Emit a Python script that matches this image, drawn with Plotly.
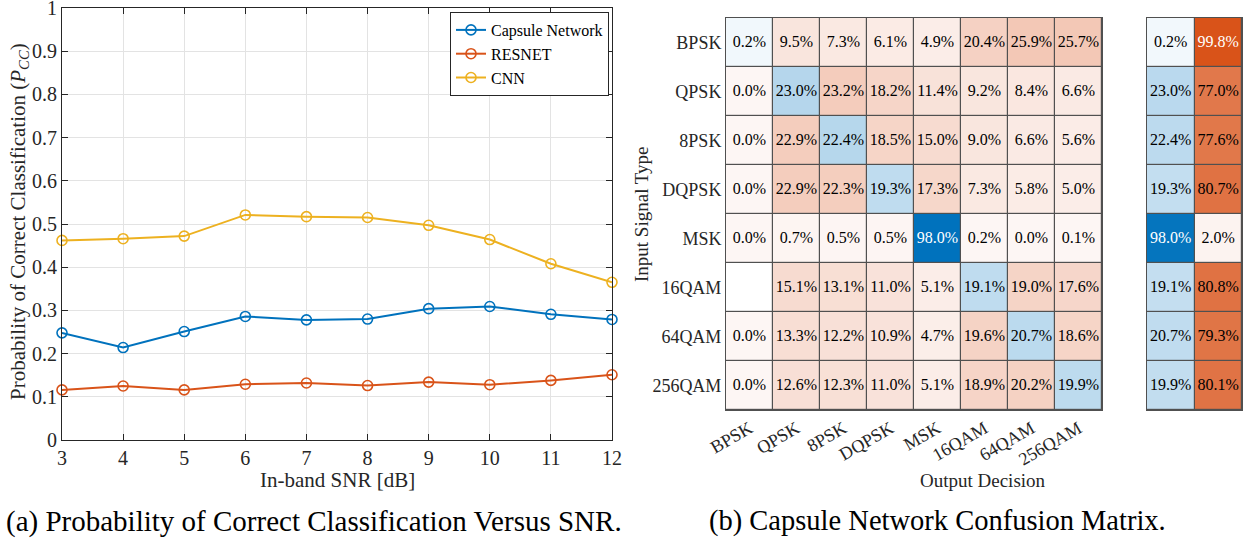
import plotly.graph_objects as go

W, H = 1245, 541

# ---------------- data: left plot ----------------
snr_db = [3, 4, 5, 6, 7, 8, 9, 10, 11, 12]
capsule_pcc = [0.248, 0.214, 0.251, 0.286, 0.278, 0.280, 0.304, 0.309, 0.291, 0.279]
resnet_pcc = [0.116, 0.125, 0.116, 0.129, 0.132, 0.126, 0.134, 0.128, 0.138, 0.151]
cnn_pcc = [0.462, 0.466, 0.472, 0.521, 0.517, 0.515, 0.497, 0.464, 0.408, 0.365]
y_ticks = [0, 0.1, 0.2, 0.3, 0.4, 0.5, 0.6, 0.7, 0.8, 0.9, 1]
y_ticklabels = ["0", "0.1", "0.2", "0.3", "0.4", "0.5", "0.6", "0.7", "0.8", "0.9", "1"]

# ---------------- data: confusion matrix ----------------
classes = ["BPSK", "QPSK", "8PSK", "DQPSK", "MSK", "16QAM", "64QAM", "256QAM"]
row_bpsk = [0.2, 9.5, 7.3, 6.1, 4.9, 20.4, 25.9, 25.7]
row_qpsk = [0.0, 23.0, 23.2, 18.2, 11.4, 9.2, 8.4, 6.6]
row_8psk = [0.0, 22.9, 22.4, 18.5, 15.0, 9.0, 6.6, 5.6]
row_dqpsk = [0.0, 22.9, 22.3, 19.3, 17.3, 7.3, 5.8, 5.0]
row_msk = [0.0, 0.7, 0.5, 0.5, 98.0, 0.2, 0.0, 0.1]
row_16qam = [None, 15.1, 13.1, 11.0, 5.1, 19.1, 19.0, 17.6]
row_64qam = [0.0, 13.3, 12.2, 10.9, 4.7, 19.6, 20.7, 18.6]
row_256qam = [0.0, 12.6, 12.3, 11.0, 5.1, 18.9, 20.2, 19.9]
conf = [row_bpsk, row_qpsk, row_8psk, row_dqpsk, row_msk, row_16qam, row_64qam, row_256qam]

correct_pct = [0.2, 23.0, 22.4, 19.3, 98.0, 19.1, 20.7, 19.9]
error_pct = [99.8, 77.0, 77.6, 80.7, 2.0, 80.8, 79.3, 80.1]
summary_cols = ["correct", "error"]

BLUE = (0, 114, 189)
ORANGE = (217, 83, 25)
C_BLUE = "#0072BD"
C_ORANGE = "#D95319"
C_YELLOW = "#EDB120"
FONT = "Liberation Serif"
AX = "#262626"
GRIDLINE = "#505050"

MAIN_MAX = 91.0
SIDE_MAX = 100.0
BASE = 0.05
GAP = 1.2


def mix(c, f):
    f = max(0.0, min(1.0, f))
    return "rgb(%d,%d,%d)" % tuple(round(255 - f * (255 - v)) for v in c)


def frac(v, vmax):
    return min(1.0, BASE + (1 - BASE) * v / vmax)


def scale(c, vmax):
    # z = -1 -> blank white, z = 0 -> BASE tint, z = vmax -> full colour
    p0 = 1.0 / (vmax + 1.0)
    return [[0, "white"], [p0 * 0.5, "white"], [p0, mix(c, BASE)], [1, mix(c, 1.0)]]


def xpx(px):
    return px / W


def ypx(py):
    return 1 - py / H


fig = go.Figure()

# ---------------- left line chart ----------------
for name, vals, col in [("Capsule Network", capsule_pcc, C_BLUE),
                        ("RESNET", resnet_pcc, C_ORANGE),
                        ("CNN", cnn_pcc, C_YELLOW)]:
    fig.add_trace(go.Scatter(
        x=snr_db, y=vals, name=name, mode="lines+markers",
        line=dict(color=col, width=2),
        marker=dict(symbol="circle-open", size=10, color=col, line=dict(width=1.6)),
        cliponaxis=False, xaxis="x", yaxis="y", showlegend=True))

# ---------------- confusion matrix (main) ----------------
n = len(classes)
z_diag = [[(conf[i][j] if i == j else None) for j in range(n)] for i in range(n)]
z_off = [[(None if i == j else (conf[i][j] if conf[i][j] is not None else -1)) for j in range(n)]
         for i in range(n)]

fig.add_trace(go.Heatmap(
    x=classes, y=classes, z=z_off, colorscale=scale(ORANGE, MAIN_MAX),
    zmin=-1, zmax=MAIN_MAX, showscale=False, xgap=GAP, ygap=GAP,
    hoverinfo="skip", xaxis="x2", yaxis="y2"))
fig.add_trace(go.Heatmap(
    x=classes, y=classes, z=z_diag, colorscale=scale(BLUE, MAIN_MAX),
    zmin=-1, zmax=MAIN_MAX, showscale=False, xgap=GAP, ygap=GAP,
    hoverinfo="skip", xaxis="x2", yaxis="y2"))

tx, ty, tt, tc = [], [], [], []
for i in range(n):
    for j in range(n):
        v = conf[i][j]
        if v is None:
            continue
        tx.append(classes[j]); ty.append(classes[i]); tt.append("%.1f%%" % v)
        tc.append("white" if frac(v, MAIN_MAX) > 0.9 else "black")
fig.add_trace(go.Scatter(
    x=tx, y=ty, text=tt, mode="text", textfont=dict(family=FONT, size=16, color=tc),
    hoverinfo="skip", showlegend=False, xaxis="x2", yaxis="y2"))

# ---------------- summary columns ----------------
z_sc = [[c, None] for c in correct_pct]
z_se = [[None, e] for e in error_pct]
fig.add_trace(go.Heatmap(
    x=summary_cols, y=classes, z=z_sc, colorscale=scale(BLUE, SIDE_MAX),
    zmin=-1, zmax=SIDE_MAX, showscale=False, xgap=GAP, ygap=GAP,
    hoverinfo="skip", xaxis="x3", yaxis="y3"))
fig.add_trace(go.Heatmap(
    x=summary_cols, y=classes, z=z_se, colorscale=scale(ORANGE, SIDE_MAX),
    zmin=-1, zmax=SIDE_MAX, showscale=False, xgap=GAP, ygap=GAP,
    hoverinfo="skip", xaxis="x3", yaxis="y3"))
sx, sy, st, sc = [], [], [], []
for i in range(n):
    for col, v in [(summary_cols[0], correct_pct[i]), (summary_cols[1], error_pct[i])]:
        sx.append(col); sy.append(classes[i]); st.append("%.1f%%" % v)
        sc.append("white" if frac(v, SIDE_MAX) > 0.9 else "black")
fig.add_trace(go.Scatter(
    x=sx, y=sy, text=st, mode="text", textfont=dict(family=FONT, size=16, color=sc),
    hoverinfo="skip", showlegend=False, xaxis="x3", yaxis="y3"))

tickfont = dict(family=FONT, size=20, color=AX)
catfont = dict(family=FONT, size=18, color=AX)
fig.update_layout(
    width=W, height=H, margin=dict(l=0, r=0, t=0, b=0, pad=0, autoexpand=False),
    paper_bgcolor="white", plot_bgcolor="white",
    font=dict(family=FONT, size=16, color=AX),
    xaxis=dict(domain=[xpx(62), xpx(612)], range=[3, 12], dtick=1, tick0=3,
               showgrid=True, gridcolor="#E3E3E3", gridwidth=1,
               showline=True, linecolor=AX, linewidth=1, mirror="ticks",
               ticks="inside", ticklen=6, tickcolor=AX, tickfont=tickfont, zeroline=False,
               ticklabeloverflow="allow", automargin=False),
    yaxis=dict(domain=[ypx(440), ypx(8)], range=[0, 1], tickmode="array",
               tickvals=y_ticks, ticktext=y_ticklabels,
               showgrid=True, gridcolor="#E3E3E3", gridwidth=1,
               showline=True, linecolor=AX, linewidth=1, mirror="ticks",
               ticks="inside", ticklen=6, tickcolor=AX, tickfont=tickfont, zeroline=False,
               ticklabeloverflow="allow", automargin=False),
    xaxis2=dict(domain=[xpx(726), xpx(1102)], anchor="y2", type="category",
                tickangle=-30, tickfont=catfont, automargin=False,
                showline=True, mirror=True, linecolor=GRIDLINE, linewidth=1,
                showgrid=False, zeroline=False, ticks=""),
    yaxis2=dict(domain=[ypx(410), ypx(18)], anchor="x2", type="category",
                autorange="reversed", tickfont=catfont, automargin=False,
                showline=True, mirror=True, linecolor=GRIDLINE, linewidth=1,
                showgrid=False, zeroline=False, ticks=""),
    xaxis3=dict(domain=[xpx(1147), xpx(1242)], anchor="y3", type="category",
                showticklabels=False, showline=True, mirror=True, linecolor=GRIDLINE,
                linewidth=1, showgrid=False, zeroline=False, ticks="", automargin=False),
    yaxis3=dict(domain=[ypx(410), ypx(18)], anchor="x3", type="category",
                autorange="reversed", showticklabels=False, showline=True, mirror=True,
                linecolor=GRIDLINE, linewidth=1, showgrid=False, zeroline=False, ticks="",
                automargin=False),
    legend=dict(x=xpx(609), y=ypx(12), xanchor="right", yanchor="top",
                bgcolor="white", bordercolor=AX, borderwidth=1,
                font=dict(family=FONT, size=16, color="black"),
                tracegroupgap=0, itemwidth=30),
    showlegend=True,
)

# dark backing behind the matrices so the cell gaps read as grid lines
shapes = []
for xr, yr in [("x2 domain", "y2 domain"), ("x3 domain", "y3 domain")]:
    shapes.append(dict(type="rect", xref=xr, yref=yr, x0=0, x1=1, y0=0, y1=1,
                       fillcolor=GRIDLINE, line=dict(width=0), layer="below"))
fig.update_layout(shapes=shapes)

annotations = [
    dict(text="In-band SNR [dB]", x=xpx(337), y=ypx(480), font=dict(family=FONT, size=21, color=AX)),
    dict(text="Probability of Correct Classification (<i>P</i><sub><i>CC</i></sub>)",
         x=xpx(19), y=ypx(222), textangle=-90, font=dict(family=FONT, size=21, color=AX)),
    dict(text="Output Decision", x=xpx(983), y=ypx(480), font=dict(family=FONT, size=19, color=AX)),
    dict(text="Input Signal Type", x=xpx(641), y=ypx(214), textangle=-90,
         font=dict(family=FONT, size=19, color=AX)),
    dict(text="(a) Probability of Correct Classification Versus SNR.", x=xpx(314), y=ypx(521),
         font=dict(family=FONT, size=29, color="black")),
    dict(text="(b) Capsule Network Confusion Matrix.", x=xpx(937), y=ypx(521),
         font=dict(family=FONT, size=28.5, color="black")),
]
for a in annotations:
    a.update(xref="paper", yref="paper", showarrow=False, xanchor="center", yanchor="middle")
fig.update_layout(annotations=annotations)

fig.write_html("out.html")
